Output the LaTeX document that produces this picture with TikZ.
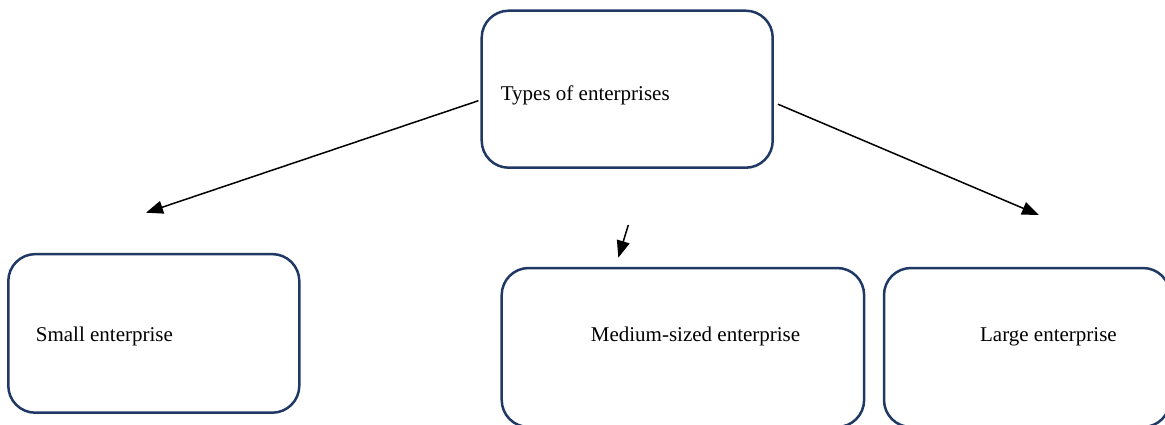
\documentclass[tikz,border=0pt]{standalone}
\usepackage{fontspec}
\setmainfont{Liberation Serif}
\usetikzlibrary{arrows.meta, positioning, calc}

\definecolor{boxnavy}{HTML}{1F3864}

\begin{document}
\begin{tikzpicture}[
    x=0.5pt, y=-0.5pt,
    box/.style   ={rectangle, draw=boxnavy, line width=1.25pt, rounded corners=13.5pt, inner sep=0pt},
    boxtext/.style ={anchor=base west, inner sep=0pt, font=\fontsize{10.5}{12.6}\selectfont},
    arrow/.style ={-{Triangle[length=8.5pt, width=6.5pt]}, line width=0.75pt},
    ]
    \useasboundingbox (0,0) rectangle (1165,424);

    % --- Boxes ---
    \node[box, minimum width=145.5pt, minimum height=78.5pt] (types) at (627.2,89.2) {};
    \node[box, minimum width=145.5pt, minimum height=79.3pt] (small) at (153.8,333.4) {};
    \node[box, minimum width=181.2pt, minimum height=79.5pt] (medium) at (682.9,347.5) {};
    \node[box, minimum width=143pt, minimum height=79.5pt] (large) at (1027,347.5) {};

    % --- Labels ---
    \node[boxtext] (types_txt) at ($(types.west)+(20,11)$) {Types of enterprises};
    \node[boxtext] (small_txt) at ($(small.west)+(28.4,8.3)$) {Small enterprise};
    \node[boxtext] (medium_txt) at ($(medium.west)+(90,-6.2)$) {Medium-sized enterprise};
    \node[boxtext] (large_txt) at ($(large.west)+(97,-6.2)$) {Large enterprise};

    % --- Arrow ends ---
    \coordinate (small_from) at ($(types.west)+(-2,11.5)$);
    \coordinate (small_tip) at (146,212.7);
    \coordinate (large_from) at ($(types.east)+(4,15)$);
    \coordinate (large_tip) at (1039,215);
    \coordinate (medium_from) at (628.3,225);
    \coordinate (medium_tip) at (618.3,257.7);

    % --- Connections ---
    \draw[arrow] (small_from) -- (small_tip);
    \draw[arrow] (large_from) -- (large_tip);
    \draw[arrow] (medium_from) -- (medium_tip);

\end{tikzpicture}
\end{document}
